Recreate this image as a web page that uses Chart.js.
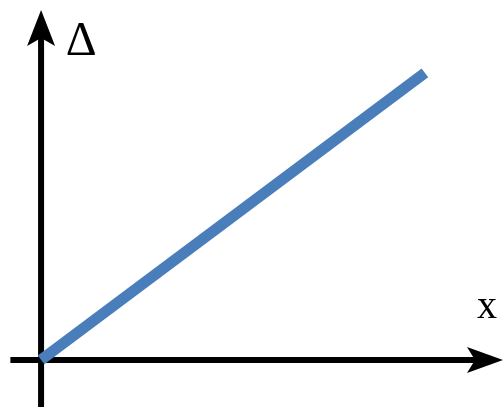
<!DOCTYPE html>
<html lang="en">
  <head>
    <meta charset="utf-8" />
    <title>Delta vs x</title>
    <style>
      * {
        margin: 0;
        padding: 0;
      }
      body {
        background: white;
      }
      .chartBox {
        width: 504px;
        height: 407px;
      }
    </style>
  </head>
  <body>
    <div class="chartBox">
      <canvas id="myChart"></canvas>
    </div>

    <script src="https://cdn.jsdelivr.net/npm/chart.js"></script>

    <script>
      // data block
      const xValues = [0, 1];
      const deltaValues = [0, 0.75];
      const xRange = [-0.107, 1.206];
      const yRange = [-0.164 * 0.75, 1.254 * 0.75];
      const axisLabels = ["x", "\u0394"];

      // axes plugin block: arrows + labels drawn through the scales
      const arrowAxes = {
        id: "arrowAxes",
        beforeDatasetsDraw(chart) {
          const {
            ctx,
            scales: { x, y },
          } = chart;
          const ox = x.getPixelForValue(0);
          const oy = y.getPixelForValue(0);
          const xStart = x.getPixelForValue(-0.08);
          const xEnd = x.getPixelForValue(xRange[1]) - 1;
          const yStart = y.getPixelForValue(yRange[0]);
          const yEnd = y.getPixelForValue(yRange[1]) + 10;

          ctx.save();
          ctx.strokeStyle = "#000";
          ctx.fillStyle = "#000";
          ctx.lineWidth = 6;

          ctx.beginPath();
          ctx.moveTo(xStart, oy);
          ctx.lineTo(xEnd - 20, oy);
          ctx.moveTo(ox, yStart);
          ctx.lineTo(ox, yEnd + 20);
          ctx.stroke();

          // x arrow head
          ctx.beginPath();
          ctx.moveTo(xEnd, oy);
          ctx.lineTo(xEnd - 36, oy - 13);
          ctx.lineTo(xEnd - 28, oy);
          ctx.lineTo(xEnd - 36, oy + 13);
          ctx.closePath();
          ctx.fill();

          // y arrow head
          ctx.beginPath();
          ctx.moveTo(ox, yEnd);
          ctx.lineTo(ox - 14, yEnd + 36);
          ctx.lineTo(ox, yEnd + 28);
          ctx.lineTo(ox + 14, yEnd + 36);
          ctx.closePath();
          ctx.fill();

          ctx.textAlign = "center";
          ctx.textBaseline = "alphabetic";
          ctx.font = "40px 'Liberation Serif', 'DejaVu Serif', serif";
          ctx.fillText(axisLabels[0], xEnd - 16, oy - 42);
          ctx.font = "48px 'Liberation Serif', 'DejaVu Serif', serif";
          ctx.fillText(axisLabels[1], ox + 40, yEnd + 45);
          ctx.restore();
        },
      };

      // config block
      const config = {
        type: "line",
        data: {
          labels: xValues,
          datasets: [
            {
              data: xValues.map((v, i) => ({ x: v, y: deltaValues[i] })),
              borderColor: "#4a7ebb",
              borderWidth: 11,
              borderCapStyle: "butt",
              pointRadius: 0,
              tension: 0,
            },
          ],
        },
        options: {
          responsive: true,
          maintainAspectRatio: false,
          animation: false,
          layout: { padding: 0 },
          plugins: {
            legend: { display: false },
            tooltip: { enabled: false },
          },
          scales: {
            x: { type: "linear", min: xRange[0], max: xRange[1], display: false },
            y: { type: "linear", min: yRange[0], max: yRange[1], display: false },
          },
        },
        plugins: [arrowAxes],
      };

      // init render block
      const myChart = new Chart(document.getElementById("myChart"), config);
    </script>
  </body>
</html>
